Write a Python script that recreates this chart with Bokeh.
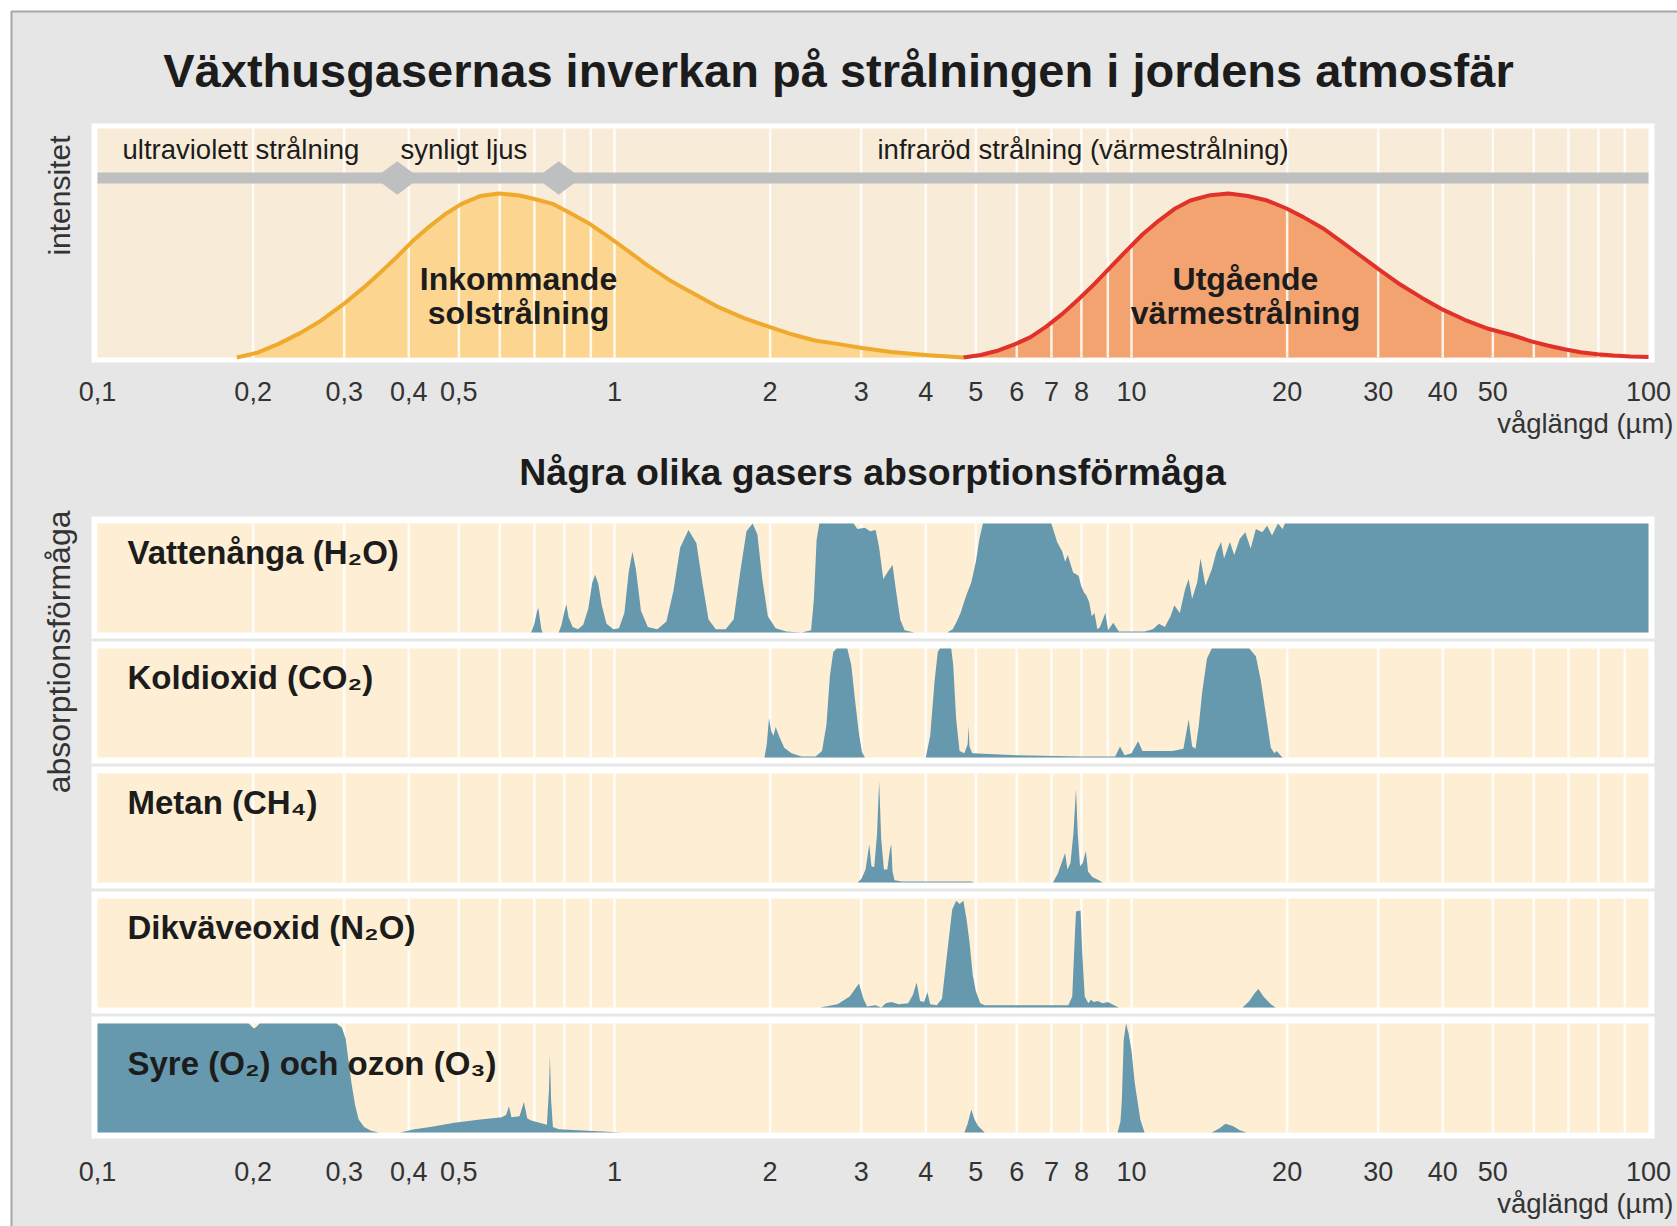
import math
from bokeh.plotting import figure
from bokeh.models import Range1d, LogScale
from bokeh.core.properties import value
from bokeh.embed import file_html
from bokeh.resources import INLINE

# ---------------- texts ----------------
TITLE = "Växthusgasernas inverkan på strålningen i jordens atmosfär"
SUBTITLE = "Några olika gasers absorptionsförmåga"
X_LABEL = "våglängd (µm)"
TOP_Y_LABEL = "intensitet"
GAS_Y_LABEL = "absorptionsförmåga"
REGION_LABELS = ["ultraviolett strålning", "synligt ljus", "infraröd strålning (värmestrålning)"]
SOLAR_LABEL = ["Inkommande", "solstrålning"]
EARTH_LABEL = ["Utgående", "värmestrålning"]
GAS_NAMES = ["Vattenånga (H₂O)", "Koldioxid (CO₂)", "Metan (CH₄)",
             "Dikväveoxid (N₂O)", "Syre (O₂) och ozon (O₃)"]

# ---------------- axis ----------------
TICK_VALUES = [0.1, 0.2, 0.3, 0.4, 0.5, 1, 2, 3, 4, 5, 6, 7, 8, 10, 20, 30, 40, 50, 100]
TICK_LABELS = ["0,1", "0,2", "0,3", "0,4", "0,5", "1", "2", "3", "4", "5", "6", "7", "8",
               "10", "20", "30", "40", "50", "100"]
GRID_VALUES = [0.2, 0.3, 0.4, 0.5, 0.6, 0.7, 0.8, 0.9, 1, 2, 3, 4, 5, 6, 7, 8, 9,
               10, 20, 30, 40, 50, 60, 70, 80, 90]
VISIBLE_BOUNDS = [0.38, 0.78]   # µm, limits of visible light

# ---------------- intensity curves (relative) ----------------
SOLAR_LAM = [0.186, 0.204, 0.224, 0.247, 0.271, 0.299, 0.328, 0.353, 0.379, 0.407, 0.437,
             0.471, 0.506, 0.551, 0.597, 0.655, 0.703, 0.759, 0.822, 0.895, 0.974, 1.06,
             1.16, 1.28, 1.43, 1.59, 1.78, 2.0, 2.21, 2.44, 2.7, 2.99, 3.43, 4.0, 4.73]
SOLAR_INT = [0.0, 0.03, 0.083, 0.15, 0.226, 0.325, 0.429, 0.52, 0.612, 0.71, 0.795,
             0.875, 0.937, 0.985, 1.0, 0.988, 0.965, 0.937, 0.88, 0.815, 0.735, 0.652,
             0.56, 0.47, 0.385, 0.307, 0.24, 0.185, 0.14, 0.104, 0.083, 0.06, 0.033, 0.015, 0.0]
EARTH_LAM = [4.73, 5.11, 5.53, 5.94, 6.38, 6.85, 7.35, 7.9, 8.48, 9.1, 9.78, 10.5, 11.3,
             12.1, 13.0, 14.2, 15.4, 16.8, 18.3, 19.9, 21.5, 23.4, 25.4, 27.6, 30.0, 33.1,
             36.4, 40.1, 44.1, 49.0, 54.8, 59.1, 63.8, 68.8, 73.9, 79.7, 85.6, 92.3, 100.0]
EARTH_INT = [0.0, 0.015, 0.043, 0.08, 0.124, 0.19, 0.266, 0.355, 0.449, 0.55, 0.652, 0.75,
             0.835, 0.905, 0.957, 0.99, 1.0, 0.985, 0.957, 0.91, 0.856, 0.79, 0.71, 0.625,
             0.54, 0.445, 0.365, 0.29, 0.23, 0.175, 0.134, 0.1, 0.073, 0.05, 0.032, 0.02,
             0.012, 0.006, 0.003]

# ---------------- absorption spectra (wavelength µm, absorption 0..1) ----------------
H2O = [(0.690, 0.00), (0.700, 0.08), (0.707, 0.18), (0.712, 0.23), (0.717, 0.13), (0.722, 0.03),
       (0.726, 0.00), (0.780, 0.00), (0.790, 0.07), (0.800, 0.19), (0.807, 0.26), (0.815, 0.14),
       (0.830, 0.05), (0.850, 0.03), (0.870, 0.07), (0.890, 0.22), (0.905, 0.45), (0.917, 0.53),
       (0.930, 0.45), (0.945, 0.25), (0.965, 0.08), (0.995, 0.03), (1.020, 0.04), (1.045, 0.18),
       (1.065, 0.55), (1.083, 0.74), (1.100, 0.58), (1.125, 0.20), (1.160, 0.05), (1.210, 0.03),
       (1.260, 0.10), (1.300, 0.38), (1.340, 0.78), (1.390, 0.94), (1.440, 0.82), (1.480, 0.45),
       (1.520, 0.12), (1.570, 0.03), (1.640, 0.03), (1.700, 0.12), (1.750, 0.55), (1.800, 0.93),
       (1.850, 1.00), (1.890, 0.90), (1.930, 0.50), (1.980, 0.15), (2.050, 0.04), (2.150, 0.01),
       (2.300, 0.00), (2.400, 0.02), (2.430, 0.30), (2.460, 0.85), (2.490, 1.00), (2.900, 1.00),
       (2.950, 0.95), (3.050, 0.96), (3.120, 0.93), (3.200, 0.94), (3.250, 0.78), (3.310, 0.49),
       (3.380, 0.56), (3.450, 0.62), (3.500, 0.40), (3.570, 0.12), (3.640, 0.02), (3.800, 0.00),
       (4.400, 0.00), (4.510, 0.03), (4.580, 0.09), (4.670, 0.18), (4.790, 0.34), (4.900, 0.46),
       (5.000, 0.65), (5.080, 0.86), (5.160, 1.00), (7.000, 1.00), (7.180, 0.83), (7.350, 0.74),
       (7.440, 0.65), (7.530, 0.71), (7.710, 0.55), (7.900, 0.52), (7.990, 0.43), (8.090, 0.37),
       (8.180, 0.34), (8.280, 0.28), (8.380, 0.15), (8.480, 0.18), (8.590, 0.03), (8.690, 0.05),
       (8.900, 0.18), (9.010, 0.02), (9.220, 0.09), (9.450, 0.01), (10.60, 0.01), (11.00, 0.03),
       (11.30, 0.08), (11.60, 0.05), (11.90, 0.15), (12.10, 0.25), (12.40, 0.18), (12.70, 0.40),
       (12.90, 0.49), (13.10, 0.31), (13.40, 0.46), (13.60, 0.68), (13.90, 0.43), (14.30, 0.58),
       (14.60, 0.74), (14.90, 0.83), (15.10, 0.68), (15.50, 0.83), (15.80, 0.71), (16.20, 0.86),
       (16.60, 0.92), (17.00, 0.77), (17.40, 0.95), (17.90, 0.92), (18.30, 0.98), (18.70, 0.89),
       (19.20, 1.00), (19.60, 0.95), (19.80, 1.00), (100.0, 1.00)]
CO2 = [(1.95, 0.00), (1.97, 0.12), (1.99, 0.36), (2.01, 0.24), (2.03, 0.20), (2.05, 0.28),
       (2.08, 0.20), (2.13, 0.09), (2.20, 0.04), (2.30, 0.01), (2.45, 0.01), (2.52, 0.06),
       (2.57, 0.30), (2.61, 0.75), (2.65, 0.97), (2.69, 1.00), (2.82, 1.00), (2.87, 0.85),
       (2.92, 0.52), (2.97, 0.22), (3.01, 0.05), (3.05, 0.00), (4.00, 0.00), (4.08, 0.20),
       (4.16, 0.70), (4.22, 0.97), (4.26, 1.00), (4.48, 1.00), (4.52, 0.85), (4.58, 0.35),
       (4.65, 0.06), (4.75, 0.04), (4.82, 0.12), (4.84, 0.29), (4.86, 0.10), (4.92, 0.04),
       (6.00, 0.02), (8.00, 0.01), (9.30, 0.01), (9.50, 0.10), (9.60, 0.06), (9.70, 0.02),
       (10.0, 0.04), (10.3, 0.15), (10.5, 0.06), (11.0, 0.06), (12.0, 0.06), (12.6, 0.08),
       (12.9, 0.35), (13.1, 0.10), (13.3, 0.08), (13.5, 0.30), (13.7, 0.60), (14.0, 0.91),
       (14.3, 1.00), (16.9, 1.00), (17.4, 0.93), (17.8, 0.70), (18.2, 0.39), (18.6, 0.09),
       (18.9, 0.04), (19.1, 0.06), (19.4, 0.02), (19.6, 0.00)]
CH4 = [(2.95, 0.00), (3.00, 0.03), (3.06, 0.12), (3.11, 0.35), (3.14, 0.15), (3.18, 0.14),
       (3.22, 0.45), (3.25, 0.93), (3.28, 0.40), (3.32, 0.12), (3.37, 0.12), (3.41, 0.30),
       (3.43, 0.35), (3.45, 0.10), (3.48, 0.02), (3.60, 0.01), (4.90, 0.01), (4.95, 0.00),
       (7.05, 0.00), (7.20, 0.08), (7.35, 0.20), (7.44, 0.27), (7.52, 0.12), (7.62, 0.18),
       (7.72, 0.45), (7.81, 0.86), (7.87, 0.45), (7.95, 0.15), (8.05, 0.18), (8.16, 0.29),
       (8.24, 0.10), (8.40, 0.05), (8.65, 0.02), (8.80, 0.00)]
N2O = [(2.50, 0.00), (2.70, 0.03), (2.85, 0.10), (2.97, 0.22), (3.03, 0.08), (3.08, 0.01),
       (3.20, 0.02), (3.28, 0.00), (3.35, 0.04), (3.43, 0.05), (3.55, 0.03), (3.70, 0.04),
       (3.78, 0.12), (3.84, 0.23), (3.90, 0.06), (3.97, 0.05), (4.03, 0.14), (4.08, 0.03),
       (4.20, 0.02), (4.30, 0.08), (4.40, 0.50), (4.50, 0.90), (4.58, 0.98), (4.65, 0.95),
       (4.73, 0.98), (4.80, 0.80), (4.86, 0.60), (4.93, 0.30), (5.00, 0.15), (5.10, 0.04),
       (5.20, 0.02), (7.55, 0.02), (7.68, 0.10), (7.76, 0.60), (7.81, 0.88), (7.97, 0.89),
       (8.03, 0.50), (8.12, 0.10), (8.25, 0.04), (8.35, 0.07), (8.45, 0.05), (8.60, 0.06),
       (8.80, 0.04), (9.00, 0.05), (9.25, 0.02), (9.45, 0.00),
       (16.4, 0.00), (16.9, 0.06), (17.3, 0.13), (17.6, 0.17), (18.0, 0.10), (18.6, 0.03),
       (19.0, 0.00)]
O2_O3 = [(0.100, 1.00), (0.196, 1.00), (0.199, 0.97), (0.201, 0.955), (0.203, 0.97), (0.206, 1.00),
         (0.290, 1.00), (0.297, 0.96), (0.302, 0.86), (0.306, 0.65), (0.310, 0.45), (0.315, 0.25),
         (0.320, 0.12), (0.328, 0.05), (0.338, 0.015), (0.350, 0.00), (0.385, 0.00), (0.410, 0.03),
         (0.440, 0.05), (0.490, 0.09), (0.550, 0.12), (0.605, 0.14), (0.617, 0.16), (0.625, 0.24),
         (0.632, 0.14), (0.655, 0.15), (0.668, 0.28), (0.678, 0.13), (0.690, 0.11), (0.740, 0.07),
         (0.747, 0.40), (0.750, 0.71), (0.754, 0.30), (0.760, 0.05), (0.780, 0.03), (0.850, 0.02),
         (0.950, 0.01), (1.030, 0.00),
         (4.75, 0.00), (4.82, 0.08), (4.90, 0.21), (4.97, 0.12), (5.05, 0.06), (5.20, 0.00),
         (9.40, 0.00), (9.52, 0.10), (9.58, 0.30), (9.66, 0.85), (9.76, 1.00), (9.87, 0.91),
         (10.0, 0.75), (10.15, 0.45), (10.4, 0.12), (10.6, 0.00),
         (14.3, 0.00), (14.8, 0.04), (15.2, 0.08), (15.7, 0.06), (16.2, 0.02), (16.7, 0.00)]
GAS_SPECTRA = [H2O, CO2, CH4, N2O, O2_O3]

# ---------------- layout (pixels) ----------------
W, H = 1677, 1226
X01, DEC = 97.0, 517.0           # pixel of 0.1 µm, pixels per decade
X100 = X01 + 3 * DEC
LAM_LO = 10 ** (-1 - X01 / DEC)
LAM_HI = 10 ** (-1 + (W - X01) / DEC)
FONT = value("Liberation Sans")

TOP_T, TOP_B = 128, 357           # cream area of intensity panel
INT_TOP, INT_BASE = 193, 357      # pixel of intensity 1 and 0
GAS_T0, GAS_PITCH, GAS_H = 523, 125, 109
GAS_LABEL_DY = [39, 39, 39, 39, 50]
BAND_Y, BAND_HALF = 177.5, 5.5
DIAM_HW, DIAM_HH = 21, 15.5

BG = "#e6e6e6"
FRAME_LINE = "#a6a6a6"
CREAM_TOP = "#f8ebd8"
CREAM_GAS = "#feefd4"
BAND = "#bebfc1"
BLUE = "#6698ae"
SOLAR_FILL = "#fcd690"
SOLAR_LINE = "#efaa2d"
EARTH_FILL = "#f2a36f"
EARTH_LINE = "#e0322a"
TXT = "#1c1c1c"
TXT2 = "#333333"


def bl(pos, fs):
    """Anchor position for a wanted alphabetic baseline (compensates the
    renderer's baseline shift, which grows with the font size)."""
    return pos - (0.25 * fs + 2)


def unit_range(top_px, bottom_px):
    h = bottom_px - top_px
    start = -(H - bottom_px) / h
    return Range1d(start, start + H / h)


def txt(x, y, s, fs, bold=False, color=TXT, align="left", **kw):
    p.text(x=x, y=y, text=s, text_font=FONT, text_font_size=value("%gpx" % fs),
           text_font_style="bold" if bold else "normal", text_color=color,
           text_align=align, text_baseline="alphabetic", **kw)


p = figure(width=W, height=H, x_range=Range1d(0, W), y_range=Range1d(H, 0),
           output_backend="svg", toolbar_location=None, title=None,
           x_axis_location=None, y_axis_location=None, min_border=0)
p.outline_line_color = None
p.background_fill_color = "white"
p.border_fill_color = BG
p.xgrid.visible = False
p.ygrid.visible = False
p.extra_x_ranges = {"lam": Range1d(LAM_LO, LAM_HI)}
p.extra_x_scales = {"lam": LogScale()}
yr = {"int": unit_range(INT_TOP, INT_BASE)}
for i in range(5):
    t = GAS_T0 + i * GAS_PITCH
    yr["g%d" % i] = unit_range(t, t + GAS_H)
p.extra_y_ranges = yr

# outer grey sheet
p.quad(left=11, right=W + 20, top=11, bottom=H + 20, fill_color=BG,
       line_color=FRAME_LINE, line_width=2)

# ---------- intensity panel ----------
p.quad(left=X01 - 6, right=X100 + 6, top=TOP_T - 5, bottom=TOP_B + 5,
       fill_color="white", line_color=None)
p.quad(left=0.1, right=100, top=TOP_T, bottom=TOP_B, x_range_name="lam",
       fill_color=CREAM_TOP, line_color=None)
p.varea(x=SOLAR_LAM, y1=0, y2=SOLAR_INT, x_range_name="lam", y_range_name="int",
        fill_color=SOLAR_FILL)
p.varea(x=EARTH_LAM, y1=0, y2=EARTH_INT, x_range_name="lam", y_range_name="int",
        fill_color=EARTH_FILL)
p.segment(x0=GRID_VALUES, x1=GRID_VALUES, y0=[TOP_T] * len(GRID_VALUES),
          y1=[TOP_B] * len(GRID_VALUES), x_range_name="lam",
          line_color="white", line_width=2.5, line_alpha=0.85)
p.quad(left=0.1, right=100, top=BAND_Y - BAND_HALF, bottom=BAND_Y + BAND_HALF,
       x_range_name="lam", fill_color=BAND, line_color=None)
dx = 10 ** (DIAM_HW / DEC)
p.patches(xs=[[b / dx, b, b * dx, b] for b in VISIBLE_BOUNDS],
          ys=[[BAND_Y, BAND_Y - DIAM_HH, BAND_Y, BAND_Y + DIAM_HH] for _ in VISIBLE_BOUNDS],
          x_range_name="lam", fill_color=BAND, line_color=BAND, line_width=2,
          line_join="round")
p.line(x=SOLAR_LAM, y=SOLAR_INT, x_range_name="lam", y_range_name="int",
       line_color=SOLAR_LINE, line_width=4, line_join="round")
p.line(x=EARTH_LAM, y=EARTH_INT, x_range_name="lam", y_range_name="int",
       line_color=EARTH_LINE, line_width=4, line_join="round")

txt([122, 400, 877], [bl(158, 27.5)] * 3, REGION_LABELS, 27.5)
txt([518, 518], [bl(288, 32), bl(322, 32)], SOLAR_LABEL, 32, bold=True, align="center")
txt([1245, 1245], [bl(288, 32), bl(322, 32)], EARTH_LABEL, 32, bold=True, align="center")

# ---------- gas panels ----------
for i, spec in enumerate(GAS_SPECTRA):
    t = GAS_T0 + i * GAS_PITCH
    b = t + GAS_H
    p.quad(left=X01 - 6, right=X100 + 6, top=t - 7, bottom=b + 6,
           fill_color="white", line_color=None)
    p.quad(left=0.1, right=100, top=t, bottom=b, x_range_name="lam",
           fill_color=CREAM_GAS, line_color=None)
    p.segment(x0=GRID_VALUES, x1=GRID_VALUES, y0=[t] * len(GRID_VALUES),
              y1=[b] * len(GRID_VALUES), x_range_name="lam",
              line_color="white", line_width=2.5, line_alpha=0.85)
    lam = [s[0] for s in spec]
    ab = [s[1] for s in spec]
    p.varea(x=lam, y1=0, y2=ab, x_range_name="lam", y_range_name="g%d" % i,
            fill_color=BLUE)
    txt([127], [bl(t + GAS_LABEL_DY[i], 33)], [GAS_NAMES[i]], 33, bold=True)

# ---------- titles & axis texts ----------
txt([838], [bl(84, 47)], [TITLE], 47, bold=True, align="center")
txt([872], [bl(483, 37.5)], [SUBTITLE], 37.5, bold=True, align="center")

for base, lab_base in ((400, 432), (1180, 1212)):
    txt(TICK_VALUES, [bl(base, 27)] * len(TICK_VALUES), TICK_LABELS, 27,
        color=TXT2, align="center", x_range_name="lam")
    txt([1673], [bl(lab_base, 27.5)], [X_LABEL], 27.5, color=TXT2, align="right")

txt([bl(68, 30)], [135], [TOP_Y_LABEL], 30, color=TXT2, align="right", angle=math.pi / 2)
txt([bl(68, 32)], [510], [GAS_Y_LABEL], 32, color=TXT2, align="right", angle=math.pi / 2)

open("out.html", "w").write(file_html(p, INLINE))
